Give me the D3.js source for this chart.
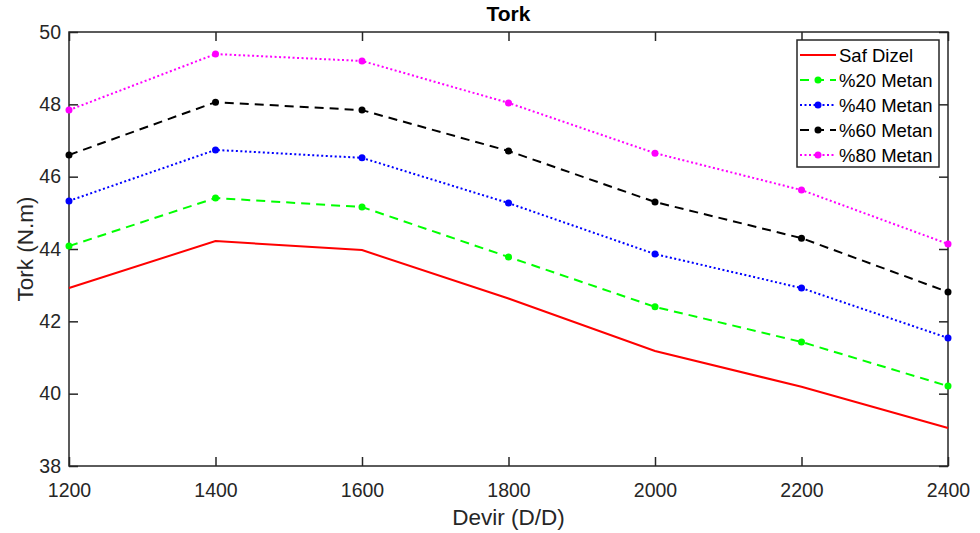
<!DOCTYPE html>
<html>
<head>
<meta charset="utf-8">
<script src="https://cdn.jsdelivr.net/npm/d3@7"></script>
<style>
  body { margin: 0; background: #fff; }
  text { font-family: "Liberation Sans", Arial, sans-serif; }
</style>
</head>
<body>
<div id="chart"></div>
<script>
const devir = [1200, 1400, 1600, 1800, 2000, 2200, 2400];
const safDizel = [42.92, 44.22, 43.97, 42.63, 41.18, 40.19, 39.05];
const metan20 = [44.08, 45.41, 45.16, 43.78, 42.40, 41.43, 40.21];
const metan40 = [45.33, 46.74, 46.52, 45.27, 43.86, 42.92, 41.54];
const metan60 = [46.60, 48.06, 47.84, 46.71, 45.30, 44.30, 42.81];
const metan80 = [47.84, 49.39, 49.20, 48.04, 46.65, 45.63, 44.14];
const xTicks = [1200, 1400, 1600, 1800, 2000, 2200, 2400];
const yTicks = [38, 40, 42, 44, 46, 48, 50];

const series = [
  {name: "Saf Dizel", values: safDizel, color: "#ff0000", dash: null, marker: false},
  {name: "%20 Metan", values: metan20, color: "#00ff00", dash: "9,6", marker: true},
  {name: "%40 Metan", values: metan40, color: "#0000ff", dash: "2,2.5", marker: true},
  {name: "%60 Metan", values: metan60, color: "#000000", dash: "9,6", marker: true},
  {name: "%80 Metan", values: metan80, color: "#ff00ff", dash: "2,2.5", marker: true}
];

const width = 980, height = 533;
const margin = {top: 32, right: 32, bottom: 67, left: 69};
const w = width - margin.left - margin.right;
const h = height - margin.top - margin.bottom;

const svg = d3.select("#chart").append("svg")
  .attr("width", width).attr("height", height);
const g = svg.append("g").attr("transform", `translate(${margin.left},${margin.top})`);

const x = d3.scaleLinear().domain([1200, 2400]).range([0, w]);
const y = d3.scaleLinear().domain([38, 50]).range([h, 0]);

const axisColor = "#262626";

// bottom / left axes with inward ticks
const styleAxis = sel => {
  sel.select(".domain").remove();
  sel.selectAll(".tick line").attr("stroke", axisColor).attr("stroke-width", 1.5);
  sel.selectAll(".tick text").attr("fill", axisColor).style("font-size", "19.5px");
};
g.append("g").attr("transform", `translate(0,${h})`)
  .call(d3.axisBottom(x).tickValues(xTicks).tickFormat(d3.format("d")).tickSizeInner(-9).tickPadding(17))
  .call(styleAxis);
g.append("g")
  .call(d3.axisLeft(y).tickValues(yTicks).tickFormat(d3.format("d")).tickSizeInner(-9).tickPadding(8))
  .call(styleAxis);
// top / right ticks
g.append("g")
  .call(d3.axisTop(x).tickValues(xTicks).tickSizeInner(-9).tickFormat(""))
  .call(styleAxis);
g.append("g").attr("transform", `translate(${w},0)`)
  .call(d3.axisRight(y).tickValues(yTicks).tickSizeInner(-9).tickFormat(""))
  .call(styleAxis);

g.append("rect").attr("width", w).attr("height", h)
  .attr("fill", "none").attr("stroke", axisColor).attr("stroke-width", 1.5);

const line = d3.line().x((d, i) => x(devir[i])).y(d => y(d));

series.forEach(s => {
  g.append("path").datum(s.values)
    .attr("d", line)
    .attr("fill", "none")
    .attr("stroke", s.color)
    .attr("stroke-width", 2)
    .attr("stroke-dasharray", s.dash);
  if (s.marker) {
    g.selectAll(null).data(s.values).enter().append("circle")
      .attr("cx", (d, i) => x(devir[i]))
      .attr("cy", d => y(d))
      .attr("r", 3.5)
      .attr("fill", s.color);
  }
});

// title and labels
svg.append("text").attr("x", margin.left + w / 2).attr("y", 21)
  .attr("text-anchor", "middle").style("font-size", "21px").style("font-weight", "bold")
  .attr("fill", "#000").text("Tork");
svg.append("text").attr("x", margin.left + w / 2).attr("y", 525)
  .attr("text-anchor", "middle").style("font-size", "22.5px").attr("fill", axisColor)
  .text("Devir (D/D)");
svg.append("text").attr("transform", `translate(33,${margin.top + h / 2}) rotate(-90)`)
  .attr("text-anchor", "middle").style("font-size", "22.5px").attr("fill", axisColor)
  .text("Tork (N.m)");

// legend
const lg = svg.append("g").attr("transform", "translate(797,40)");
lg.append("rect").attr("width", 142).attr("height", 127)
  .attr("fill", "#fff").attr("stroke", axisColor).attr("stroke-width", 1.5);
series.forEach((s, i) => {
  const yy = 15 + i * 25;
  lg.append("line").attr("x1", 3).attr("x2", 39).attr("y1", yy).attr("y2", yy)
    .attr("stroke", s.color).attr("stroke-width", 2).attr("stroke-dasharray", s.dash);
  if (s.marker) lg.append("circle").attr("cx", 21).attr("cy", yy).attr("r", 3.5).attr("fill", s.color);
  lg.append("text").attr("x", 42).attr("y", yy + 7).style("font-size", "18.5px")
    .attr("fill", "#000").text(s.name);
});
</script>
</body>
</html>
